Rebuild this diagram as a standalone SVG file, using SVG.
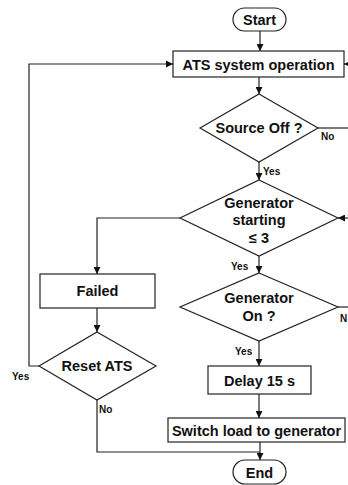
<svg xmlns="http://www.w3.org/2000/svg" width="348" height="485" viewBox="0 0 348 485">
<style>
.s{fill:#fff;stroke:#222;stroke-width:1.2}
.t{font-family:"Liberation Sans",Arial,sans-serif;font-weight:bold;font-size:14.5px;fill:#111;text-anchor:middle}
.l{font-family:"Liberation Sans",Arial,sans-serif;font-weight:bold;font-size:10px;fill:#111}
.c{fill:none;stroke:#222;stroke-width:1.2}
</style>
<defs>
<marker id="a" viewBox="0 0 10 10" refX="10" refY="5" markerWidth="7" markerHeight="7" markerUnits="userSpaceOnUse" orient="auto">
<path d="M0,0 L10,5 L0,10 z" fill="#111"/>
</marker>
</defs>
<g id="connectors">
<path class="c" d="M260,31 V51" marker-end="url(#a)"/>
<path class="c" d="M259,77 V94" marker-end="url(#a)"/>
<path class="c" d="M259,162 V180" marker-end="url(#a)"/>
<path class="c" d="M318,128 H348"/>
<path class="c" d="M348,64 H344" marker-end="url(#a)"/>
<path class="c" d="M348,218 H338" marker-end="url(#a)"/>
<path class="c" d="M180,218 H97 V274" marker-end="url(#a)"/>
<path class="c" d="M97,308 V332" marker-end="url(#a)"/>
<path class="c" d="M39,366 H29 V64 H173" marker-end="url(#a)"/>
<path class="c" d="M97,400 V452 H260"/>
<path class="c" d="M259,256 V273" marker-end="url(#a)"/>
<path class="c" d="M338,307 H348"/>
<path class="c" d="M259,341 V366" marker-end="url(#a)"/>
<path class="c" d="M259,394 V418" marker-end="url(#a)"/>
<path class="c" d="M260,442 V460" marker-end="url(#a)"/>
<text class="l" x="321" y="140">No</text>
<text class="l" x="263" y="175">Yes</text>
<text class="l" x="231" y="270">Yes</text>
<text class="l" x="340" y="322">N</text>
<text class="l" x="235" y="355">Yes</text>
<text class="l" x="12" y="380">Yes</text>
<text class="l" x="99" y="413">No</text>
</g>
<g id="start"><rect class="s" x="233" y="8" width="53" height="23" rx="11.5"/><text class="t" x="259.5" y="25">Start</text></g>
<g id="ats"><rect class="s" x="173" y="51" width="171" height="26"/><text class="t" x="258.5" y="69.5">ATS system operation</text></g>
<g id="sourceoff"><polygon class="s" points="259,94 318,128 259,162 200,128"/><text class="t" x="259" y="133">Source Off ?</text></g>
<g id="genstart"><polygon class="s" points="259,180 338,218 259,256 180,218"/><text class="t" x="259" y="208">Generator</text><text class="t" x="259" y="225">starting</text><text class="t" x="259" y="243">≤ 3</text></g>
<g id="failed"><rect class="s" x="40" y="274" width="115" height="34"/><text class="t" x="97.5" y="296">Failed</text></g>
<g id="reset"><polygon class="s" points="97,332 156,366 97,400 39,366"/><text class="t" x="97" y="371">Reset ATS</text></g>
<g id="genon"><polygon class="s" points="259,273 338,307 259,341 180,307"/><text class="t" x="259" y="303">Generator</text><text class="t" x="259" y="321">On ?</text></g>
<g id="delay"><rect class="s" x="208" y="366" width="103" height="28"/><text class="t" x="259.5" y="385.5">Delay 15 s</text></g>
<g id="switch"><rect class="s" x="168" y="418" width="177" height="24"/><text class="t" x="256.5" y="435.5">Switch load to generator</text></g>
<g id="end"><rect class="s" x="233" y="460" width="53" height="24" rx="12"/><text class="t" x="259.5" y="477.5">End</text></g>
</svg>
